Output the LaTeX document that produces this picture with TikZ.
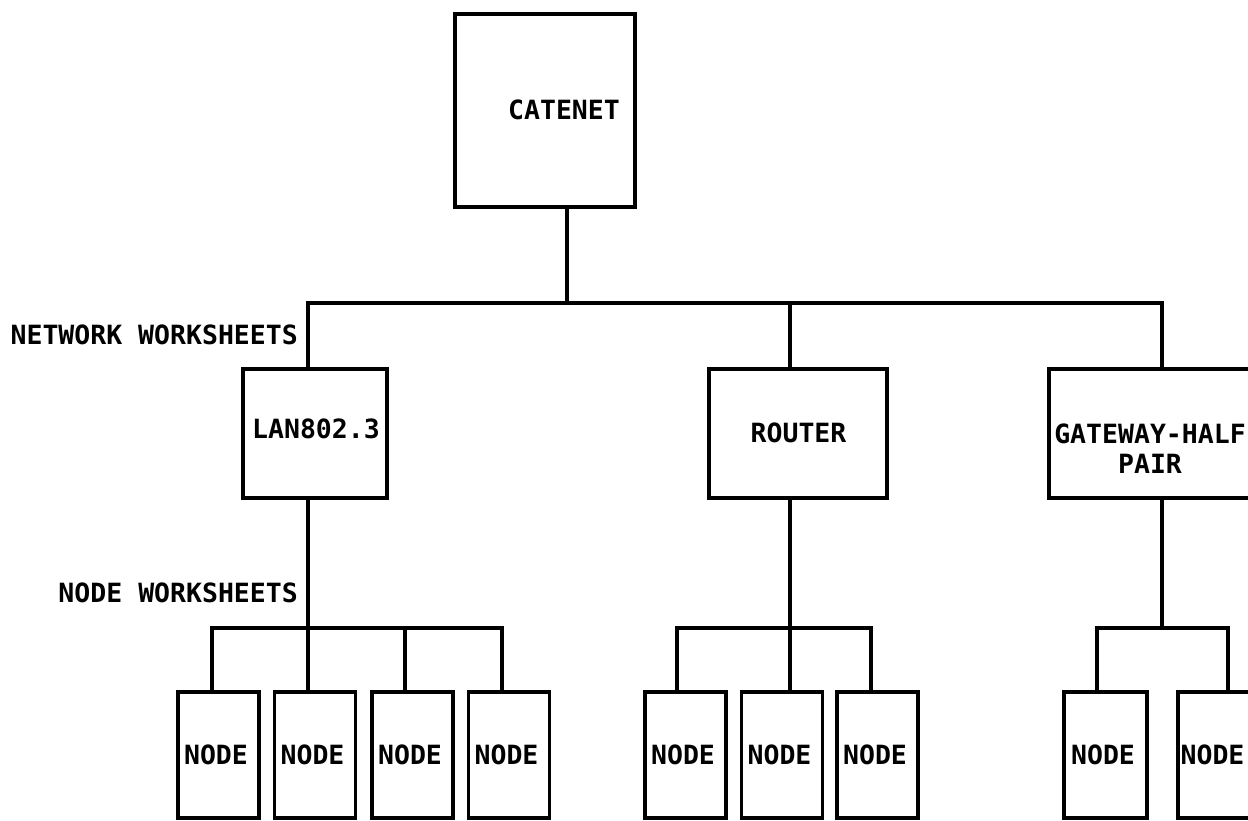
\documentclass[tikz,border=0pt]{standalone}
\usepackage{fontspec}
\setmainfont{DejaVu Sans Mono}
\begin{document}
\begin{tikzpicture}[x=1pt,y=-1pt,
  every node/.style={font=\fontsize{26.5}{30}\selectfont\bfseries},
  box/.style={draw, line width=3.5pt, inner sep=0pt, line join=miter},
  wire/.style={line width=3.5pt, line join=miter},
  txt/.style={inner sep=0pt, align=center},
  nodebox/.style={box, minimum width=81pt, minimum height=126pt, execute at end node={\kern5pt}}]
\fill[white] (0,0) rectangle (1248,820);
\useasboundingbox (0,0) rectangle (1248,820);
\clip (0,0) rectangle (1248,820);

% top box
\node[box, minimum width=180pt, minimum height=193pt] (cat) at (545,110.5) {};
\node[txt] (catl) at (564,110) {CATENET};

% network worksheets level
\node[box, minimum width=144pt, minimum height=129pt] (lan) at (315,433.5) {};
\node[txt] (lanl) at (316,429) {LAN802.3};
\node[box, minimum width=178pt, minimum height=129pt] (router) at (798,433.5) {};
\node[txt] (routerl) at (798.5,433) {ROUTER};
\node[box, minimum width=226pt, minimum height=129pt] (gw) at (1162,433.5) {};
\node[txt] (gwl) at (1150,449) {GATEWAY-HALF\\PAIR};

% side labels
\node[txt, anchor=east] (netws) at (298,334.5) {NETWORK WORKSHEETS};
\node[txt, anchor=east] (nodews) at (298,593) {NODE WORKSHEETS};

% node worksheets level
\node[nodebox] (n1) at (218.5,755) {NODE};
\node[nodebox] (n2) at (315,755) {NODE};
\node[nodebox] (n3) at (412.5,755) {NODE};
\node[nodebox] (n4) at (509,755) {NODE};
\node[nodebox] (r1) at (685.5,755) {NODE};
\node[nodebox] (r2) at (782,755) {NODE};
\node[nodebox] (r3) at (877.5,755) {NODE};
\node[nodebox, minimum width=83pt] (g1) at (1105.5,755) {NODE};
\node[nodebox, minimum width=82pt, execute at end node={\kern8pt}] (g2) at (1219,755) {NODE};

% bus coordinates
\coordinate (b0) at (567,303);
\coordinate (t1) at (308,303);
\coordinate (t2) at (790,303);
\coordinate (t3) at (1162,303);
\coordinate (l1) at (212,628);
\coordinate (l2) at (308,628);
\coordinate (l3) at (405,628);
\coordinate (l4) at (502,628);
\coordinate (rb1) at (677,628);
\coordinate (rb2) at (790,628);
\coordinate (rb3) at (871,628);
\coordinate (gb1) at (1097,628);
\coordinate (gb2) at (1228,628);

% top connectors
\draw[wire] (b0 |- cat.south) -- (b0);
\draw[wire] (t1 |- lan.north) -- (t1) -- (t3) -- (t3 |- gw.north);
\draw[wire] (t2 |- router.north) -- (t2);

% LAN connectors
\draw[wire] (l2 |- lan.south) -- (l2 |- n2.north);
\draw[wire] (l1 |- n1.north) -- (l1) -- (l4) -- (l4 |- n4.north);
\draw[wire] (l3) -- (l3 |- n3.north);

% router connectors
\draw[wire] (rb2 |- router.south) -- (rb2 |- r2.north);
\draw[wire] (rb1 |- r1.north) -- (rb1) -- (rb3) -- (rb3 |- r3.north);

% gateway connectors
\draw[wire] (gw.south) -- (gw.south |- gb1);
\draw[wire] (gb1 |- g1.north) -- (gb1) -- (gb2) -- (gb2 |- g2.north);
\end{tikzpicture}
\end{document}
